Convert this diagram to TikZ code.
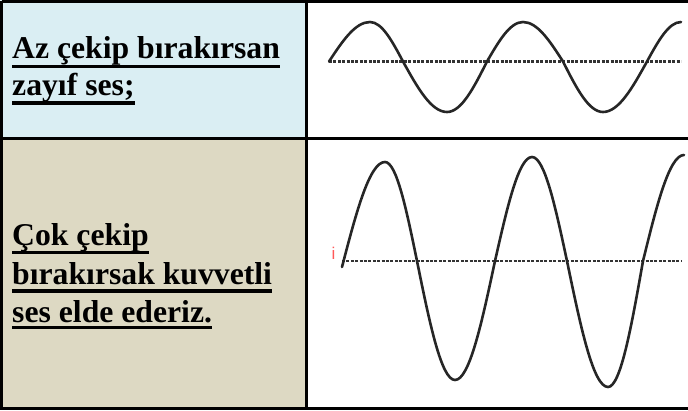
\documentclass[tikz,border=0pt]{standalone}
\usepackage{fontspec}
\setmainfont{Liberation Serif}
\newfontfamily\redfont{Liberation Sans}
\definecolor{cellblue}{HTML}{DAEEF3}
\definecolor{celltan}{HTML}{DDD9C3}
\begin{document}
\begin{tikzpicture}[x=1pt,y=-1pt,
  grid/.style={line width=3pt,black},
  wave/.style={line width=2.6pt,black!85,line cap=round,line join=round},
  axisline/.style={line width=2.3pt,black!80,dash pattern=on 3pt off 1.4pt},
  label/.style={anchor=base west,inner sep=0pt,font=\fontsize{31.7}{37}\selectfont\bfseries},
  ulline/.style={line width=3.5pt,black}]
\useasboundingbox (0,0) rectangle (688,410);
% cell fills
\fill[cellblue] (0,0) rectangle (306,138);
\fill[celltan] (0,138) rectangle (306,410);
% grid
\draw[grid] (1.5,1.2) -- (692,1.2);
\draw[grid] (1.5,1.2) -- (1.5,408.5);
\draw[grid] (0,408.5) -- (692,408.5);
\draw[grid] (306,0) -- (306,410);
\draw[grid] (0,138) -- (692,138);
% texts
\node[label] (t1a) at (12,58) {Az çekip bırakırsan};
\node[label] (t1b) at (12,95) {zayıf ses;};
\node[label] (t2a) at (12,245) {Çok çekip};
\node[label] (t2b) at (12,284.5) {bırakırsak kuvvetli};
\node[label] (t2c) at (12,322.5) {ses elde ederiz.};
\foreach \n/\d in {t1a/8.5,t1b/8,t2a/7.5,t2b/6.5,t2c/5}
  \draw[ulline] ([yshift=-\d pt]\n.base west) -- ([yshift=-\d pt]\n.base east);
% row 1 wave
\coordinate (a1s) at (329,61.5);
\coordinate (a1e) at (681,61.5);
\draw[axisline] (a1s) -- (a1e);
\draw[wave] (a1s) sin (370,22) cos (403,61.5) sin (447,112) cos (487,61.5)
  sin (523,22) cos (563,61.5) sin (603,112) cos (647,61.5) sin (681,22);
% row 2 wave
\coordinate (a2s) at (342,261);
\coordinate (a2e) at (682,261);
\coordinate (w2s) at (342,267);
\draw[axisline] (a2s) -- (a2e);
\draw[wave] (w2s) sin (385,162) cos (417,261) sin (455,380) cos (495,261)
  sin (532,157) cos (567,261) sin (608,387) cos (643,261) sin (684,155);
\node[anchor=base,inner sep=0pt,text=red!65,font=\redfont\fontsize{17}{17}\selectfont] (ri) at (333.5,259) {i};
\end{tikzpicture}
\end{document}
